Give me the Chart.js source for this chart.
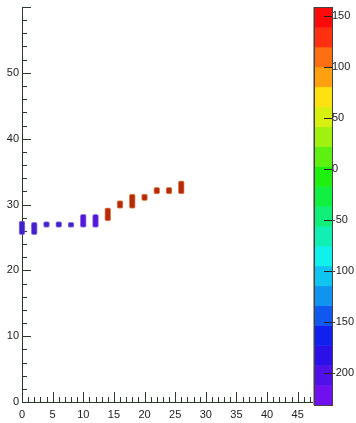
<!DOCTYPE html>
<html>
<head>
<meta charset="utf-8">
<script src="https://cdn.jsdelivr.net/npm/chart.js@4.4.1/dist/chart.umd.min.js"></script>
<style>
    body { margin: 0; background: #ffffff; }
    #myChart { display: block; }
</style>
</head>
<body>
<canvas id="myChart" width="356" height="423"></canvas>
<script>
// candle positions and low/high edges
var binX = [0, 2, 4, 6, 8, 10, 12, 14, 16, 18, 20, 22, 24, 26];
var binLow = [25.4, 25.4, 26.5, 26.5, 26.5, 26.5, 26.5, 27.5, 29.4, 29.4, 30.6, 31.6, 31.6, 31.6];
var binHigh = [27.5, 27.3, 27.4, 27.4, 27.3, 28.5, 28.5, 29.5, 30.6, 31.6, 31.6, 32.6, 32.6, 33.6];

// axis tick labels
var xTicks = [0, 5, 10, 15, 20, 25, 30, 35, 40, 45];
var yTicks = [0, 10, 20, 30, 40, 50];
var zTicks = [-200, -150, -100, -50, 0, 50, 100, 150];

// colour scale range and its contour colours (bottom to top)
var zMin = -231;
var zMax = 159;
var zColors = [
    '#7010f0', '#5010e8', '#2c10e8', '#1020f0', '#1058f0', '#1094f0', '#10c4f0',
    '#10f0ec', '#10f0b4', '#10f078', '#10f040', '#20f010', '#5ef010', '#a0f010',
    '#d8f010', '#ffe010', '#ffa010', '#ff6e10', '#ff3010', '#ff0a0a'
];

var axisColor = '#2b3a2b';
var textColor = '#222222';

var points = binX.map(function (x, i) {
    return { x: x, y: [binLow[i], binHigh[i]] };
});

function barColor(ctx) {
    var i = ctx.dataIndex;
    if (i >= 7) return '#b52a08';
    if (i >= 5) return '#5515da';
    return '#4420c8';
}

function barEdge(ctx) {
    return ctx.dataIndex >= 7 ? 'rgba(214,96,30,0.75)' : 'rgba(96,64,216,0.7)';
}

// no label overhang padding, the layout padding alone sets the plot box
function noPad(scale) {
    scale.paddingTop = 0;
    scale.paddingBottom = 0;
    scale.paddingLeft = 0;
    scale.paddingRight = 0;
}

var innerTicks = {
    id: 'innerTicks',
    beforeDatasetsDraw: function (chart) {
        var ctx = chart.ctx;
        var area = chart.chartArea;
        var xs = chart.scales.x;
        var ys = chart.scales.y;
        ctx.save();
        ctx.strokeStyle = axisColor;
        ctx.lineWidth = 1;
        ctx.beginPath();
        for (var v = 0; v <= 47; v++) {
            var px = Math.round(xs.getPixelForValue(v)) + 0.5;
            var len = v % 5 === 0 ? 10 : 5;
            ctx.moveTo(px, area.bottom);
            ctx.lineTo(px, area.bottom - len);
        }
        for (var w = 0; w <= 60; w += 2) {
            var py = Math.round(ys.getPixelForValue(w)) + 0.5;
            var l = w % 10 === 0 ? 9 : 5;
            ctx.moveTo(area.left, py);
            ctx.lineTo(area.left + l, py);
        }
        ctx.stroke();
        ctx.restore();
    }
};

var colorBar = {
    id: 'colorBar',
    afterDraw: function (chart) {
        var ctx = chart.ctx;
        var area = chart.chartArea;
        var zs = chart.scales.y2;
        var x0 = area.right + 2;
        var w = 17;
        var step = (zMax - zMin) / zColors.length;
        ctx.save();
        // frame edge
        ctx.strokeStyle = '#a39a92';
        ctx.lineWidth = 1;
        ctx.beginPath();
        ctx.moveTo(area.right + 0.5, zs.getPixelForValue(zMax));
        ctx.lineTo(area.right + 0.5, zs.getPixelForValue(zMin));
        ctx.stroke();
        for (var i = 0; i < zColors.length; i++) {
            var top = zs.getPixelForValue(zMin + (i + 1) * step);
            var bot = zs.getPixelForValue(zMin + i * step);
            ctx.fillStyle = zColors[i];
            ctx.fillRect(x0, top, w, bot - top + 0.5);
        }
        var t = zs.getPixelForValue(zMax);
        var b = zs.getPixelForValue(zMin);
        ctx.strokeStyle = '#444444';
        ctx.strokeRect(x0 - 0.5, Math.round(t) + 0.5, w + 1, Math.round(b - t));
        ctx.strokeStyle = '#222222';
        ctx.beginPath();
        zTicks.forEach(function (z) {
            var py = Math.round(zs.getPixelForValue(z)) + 0.5;
            ctx.moveTo(x0 + w, py);
            ctx.lineTo(x0 + w - 8, py);
        });
        ctx.stroke();
        ctx.restore();
    }
};

var myChart = new Chart("myChart", {
    type: "bar",
    data: {
        datasets: [{
            data: points,
            backgroundColor: barColor,
            borderColor: barEdge,
            borderWidth: 1,
            borderRadius: 2,
            borderSkipped: false,
            barThickness: 6,
            clip: false
        }]
    },
    options: {
        responsive: false,
        animation: false,
        layout: { padding: { top: 7, left: 0, right: 0, bottom: 0 } },
        plugins: {
            legend: { display: false },
            tooltip: { enabled: false }
        },
        scales: {
            x: {
                type: 'linear',
                offset: false,
                min: 0,
                max: 47.5,
                grid: { display: false, drawTicks: false },
                border: { display: true, color: axisColor, width: 1 },
                afterBuildTicks: function (scale) {
                    scale.ticks = xTicks.map(function (v) { return { value: v }; });
                },
                afterFit: function (scale) { scale.height = 21; noPad(scale); },
                ticks: {
                    color: textColor,
                    padding: 6,
                    maxRotation: 0,
                    autoSkip: false,
                    font: { family: 'Liberation Sans', size: 11 }
                }
            },
            y: {
                type: 'linear',
                min: 0,
                max: 60,
                grid: { display: false, drawTicks: false },
                border: { display: true, color: axisColor, width: 1 },
                afterBuildTicks: function (scale) {
                    scale.ticks = yTicks.map(function (v) { return { value: v }; });
                },
                afterFit: function (scale) { scale.width = 22; noPad(scale); },
                ticks: {
                    color: textColor,
                    padding: 3,
                    font: { family: 'Liberation Sans', size: 11 }
                }
            },
            y2: {
                type: 'linear',
                position: 'right',
                min: -228,
                max: 159,
                grid: { display: false, drawTicks: true, tickLength: 16 },
                border: { display: false },
                afterBuildTicks: function (scale) {
                    scale.ticks = zTicks.map(function (v) { return { value: v }; });
                },
                afterFit: function (scale) { scale.width = 43; noPad(scale); },
                ticks: {
                    color: textColor,
                    padding: 3,
                    font: { family: 'Liberation Sans', size: 11 }
                }
            }
        }
    },
    plugins: [innerTicks, colorBar]
});
</script>
</body>
</html>
